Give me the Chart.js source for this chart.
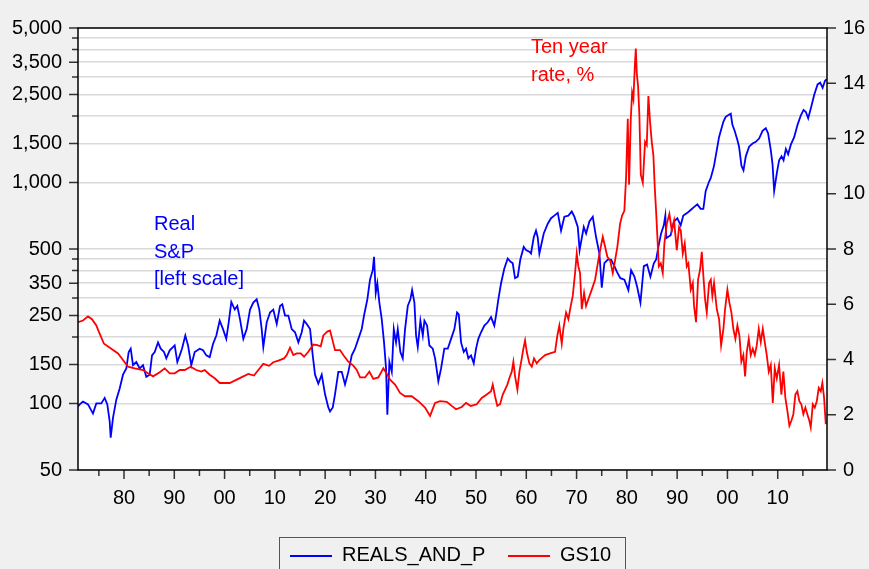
<!DOCTYPE html>
<html>
<head>
<meta charset="utf-8">
<script src="https://cdn.jsdelivr.net/npm/chart.js@4.4.1/dist/chart.umd.min.js"></script>
<style>
  html, body { margin: 0; padding: 0; background: #f0f0f0; }
  #wrap { position: relative; width: 869px; height: 569px; overflow: hidden;
          font-family: "Liberation Sans", Arial, sans-serif; }
  #chart { position: absolute; left: 0; top: 0; }
  .note { position: absolute; font-size: 20px; line-height: 27.5px; white-space: nowrap; }
  #legend { position: absolute; left: 279px; top: 537px; width: 347px; height: 45px;
            border: 1px solid #555; box-sizing: border-box; }
  #legend span { position: absolute; font-size: 20px; line-height: 27px; color: #000; white-space: nowrap; }
  #legend i { position: absolute; height: 2px; width: 42px; }
</style>
</head>
<body>
<div id="wrap">
  <canvas id="chart" width="869" height="569"></canvas>
  <div class="note" style="left:154px; top:210px; color:#0000ff;">Real<br>S&amp;P<br>[left scale]</div>
  <div class="note" style="left:531px; top:33px; color:#ff0000;">Ten year<br>rate, %</div>
  <div id="legend">
    <i style="left:10px; top:17px; background:#0000ff;"></i>
    <span style="left:62px; top:3px;">REALS_AND_P</span>
    <i style="left:228px; top:17px; background:#ff0000;"></i>
    <span style="left:280px; top:3px;">GS10</span>
  </div>
</div>
<script>
// real S&P composite (left, log scale)
const spYear = [
  1870.85, 1871.19, 1871.84, 1872.84, 1873.83, 1874.49, 1875.48, 1876.16, 1876.68, 1877.15,
  1877.35, 1877.81, 1878.47, 1879.14, 1879.8, 1880.46, 1880.93, 1881.33, 1881.79, 1882.44,
  1883.12, 1883.78, 1884.43, 1885.11, 1885.57, 1886.1, 1886.76, 1887.3, 1887.95, 1888.41,
  1889.09, 1890.08, 1890.6, 1891.08, 1891.53, 1892.19, 1892.73, 1893.38, 1894.06, 1895.05,
  1895.71, 1896.37, 1897.04, 1897.7, 1898.36, 1899.03, 1899.69, 1900.34, 1900.82, 1901.34,
  1902.02, 1902.53, 1903.07, 1903.73, 1904.4, 1905.06, 1905.71, 1906.39, 1906.91, 1907.38,
  1907.7, 1908.38, 1909.04, 1909.69, 1910.37, 1911.03, 1911.48, 1912.02, 1912.68, 1913.35,
  1914.01, 1914.67, 1915.34, 1915.8, 1916.34, 1917.0, 1917.53, 1917.99, 1918.64, 1919.32,
  1919.98, 1920.63, 1920.97, 1921.51, 1921.96, 1922.62, 1923.3, 1923.95, 1924.61, 1925.29,
  1925.94, 1926.6, 1927.27, 1927.73, 1928.39, 1928.92, 1929.46, 1929.72, 1930.06, 1930.38,
  1930.78, 1931.25, 1931.71, 1932.11, 1932.37, 1932.77, 1933.25, 1933.65, 1934.1, 1934.44,
  1934.96, 1935.43, 1935.89, 1936.43, 1936.95, 1937.29, 1937.75, 1938.08, 1938.42, 1938.94,
  1939.42, 1939.74, 1940.27, 1940.73, 1941.4, 1941.86, 1942.25, 1942.51, 1943.05, 1943.7,
  1944.38, 1945.04, 1945.7, 1946.23, 1946.57, 1947.03, 1947.56, 1948.02, 1948.48, 1949.01,
  1949.55, 1950.01, 1950.46, 1951.0, 1951.66, 1952.33, 1952.99, 1953.64, 1953.98, 1954.44,
  1954.98, 1955.63, 1956.31, 1956.83, 1957.3, 1957.76, 1958.3, 1958.81, 1959.49, 1959.95,
  1960.6, 1960.94, 1961.48, 1961.93, 1962.27, 1962.6, 1963.47, 1964.27, 1964.92, 1965.58,
  1966.26, 1966.91, 1967.57, 1968.37, 1969.04, 1969.56, 1970.24, 1970.6, 1971.43, 1971.89,
  1972.55, 1973.22, 1973.88, 1974.54, 1975.01, 1975.53, 1976.21, 1976.86, 1977.52, 1978.05,
  1978.71, 1979.51, 1980.3, 1980.84, 1981.5, 1982.03, 1982.7, 1983.37, 1984.03, 1984.68,
  1985.36, 1985.82, 1986.27, 1986.81, 1987.34, 1987.65, 1987.85, 1988.7, 1989.36, 1990.04,
  1990.7, 1991.23, 1992.03, 1992.69, 1993.34, 1994.02, 1994.68, 1995.21, 1995.67, 1996.33,
  1996.67, 1997.01, 1997.33, 1997.87, 1998.33, 1998.67, 1999.2, 1999.66, 2000.12, 2000.66,
  2000.99, 2001.45, 2001.99, 2002.31, 2002.79, 2003.19, 2003.65, 2004.31, 2004.99, 2005.64,
  2006.3, 2006.98, 2007.63, 2008.09, 2008.63, 2008.97, 2009.29, 2009.83, 2010.28, 2010.76,
  2011.16, 2011.62, 2012.07, 2012.61, 2013.27, 2013.94, 2014.6, 2015.14, 2015.6, 2016.06,
  2016.59, 2017.26, 2017.93, 2018.45, 2018.93, 2019.39, 2019.73
];
const spValue = [
  97, 99, 102, 99, 90, 100, 100, 106, 99, 83,
  70, 86, 104, 117, 135, 144, 171, 177, 149, 154,
  144, 149, 132, 135, 165, 171, 189, 177, 171, 160,
  174, 183, 154, 165, 177, 203, 183, 149, 171, 177,
  174, 165, 162, 186, 203, 237, 217, 196, 233, 288,
  266, 276, 240, 196, 217, 266, 286, 296, 266, 217,
  180, 233, 258, 266, 229, 276, 281, 250, 250, 217,
  210, 189, 210, 237, 229, 217, 165, 135, 123, 135,
  110, 96, 92, 96, 110, 139, 139, 122, 139, 165,
  177, 196, 217, 250, 296, 363, 401, 461, 316, 350,
  286, 241, 189, 144, 89, 154, 139, 217, 189, 217,
  171, 160, 217, 276, 296, 326, 286, 203, 180, 237,
  203, 237, 225, 183, 177, 160, 139, 126, 144, 177,
  177, 196, 217, 258, 253, 189, 171, 177, 160, 165,
  152, 177, 196, 210, 225, 233, 246, 225, 250, 296,
  350, 408, 453, 439, 431, 369, 375, 448, 511, 494,
  486, 477, 565, 605, 565, 477, 588, 651, 689, 708,
  729, 605, 700, 708, 739, 700, 629, 494, 629, 588,
  666, 700, 565, 477, 334, 431, 448, 448, 418, 393,
  369, 363, 326, 401, 375, 338, 286, 418, 425, 375,
  431, 448, 511, 588, 640, 708, 560, 577, 666, 689,
  640, 708, 729, 751, 773, 796, 760, 760, 914, 1007,
  1045, 1115, 1189, 1397, 1603, 1711, 1886, 1981, 2014, 2046,
  1823, 1711, 1551, 1452, 1189, 1134, 1313, 1452, 1501, 1527,
  1580, 1711, 1762, 1667, 1397, 1207, 916, 1106, 1261, 1313,
  1261, 1418, 1342, 1483, 1603, 1823, 2014, 2129, 2083, 1952,
  2167, 2495, 2779, 2829, 2681, 2877, 2938
];

// ten year rate, % (right scale)
const gsYear = [
  1870.85, 1871.84, 1872.84, 1873.63, 1874.49, 1875.17, 1876.02, 1877.47, 1878.81, 1879.8,
  1880.79, 1882.13, 1883.78, 1884.77, 1885.77, 1887.1, 1888.09, 1889.09, 1890.08, 1891.08,
  1892.07, 1893.26, 1894.38, 1895.37, 1896.05, 1897.04, 1898.04, 1899.03, 1900.03, 1901.02,
  1902.41, 1903.73, 1904.72, 1905.85, 1906.71, 1907.7, 1908.84, 1909.69, 1910.69, 1911.82,
  1912.36, 1913.01, 1913.67, 1914.35, 1915.14, 1915.8, 1916.65, 1917.65, 1918.44, 1919.12,
  1919.64, 1920.43, 1920.97, 1921.31, 1921.96, 1922.96, 1923.61, 1924.61, 1925.6, 1926.28,
  1926.94, 1927.93, 1928.79, 1929.58, 1930.58, 1931.57, 1932.37, 1932.9, 1933.9, 1934.89,
  1935.88, 1937.22, 1938.53, 1939.86, 1940.86, 1941.85, 1942.85, 1944.18, 1945.17, 1946.03,
  1947.16, 1948.02, 1948.95, 1950.14, 1951.14, 1952.13, 1952.99, 1953.33, 1953.78, 1954.24,
  1954.78, 1955.32, 1955.78, 1956.23, 1956.63, 1957.11, 1957.43, 1957.77, 1958.23, 1958.63,
  1959.1, 1959.42, 1959.76, 1960.09, 1960.61, 1961.09, 1961.54, 1962.08, 1962.6, 1963.73,
  1964.72, 1965.72, 1966.18, 1966.57, 1967.05, 1967.37, 1967.91, 1968.37, 1968.84, 1969.24,
  1969.7, 1970.03, 1970.35, 1970.69, 1971.03, 1971.49, 1971.88, 1972.34, 1973.02, 1973.68,
  1974.33, 1974.81, 1975.21, 1975.67, 1976.12, 1976.66, 1977.2, 1977.66, 1978.11, 1978.65,
  1979.05, 1979.5, 1979.84, 1980.18, 1980.44, 1980.78, 1981.04, 1981.3, 1981.58, 1981.78,
  1981.97, 1982.23, 1982.49, 1982.77, 1983.17, 1983.62, 1983.96, 1984.28, 1984.62, 1984.95,
  1985.27, 1985.55, 1985.81, 1986.07, 1986.35, 1986.74, 1987.14, 1987.46, 1987.94, 1988.46,
  1988.93, 1989.39, 1989.93, 1990.38, 1990.72, 1991.12, 1991.51, 1991.91, 1992.23, 1992.71,
  1993.11, 1993.36, 1993.76, 1994.16, 1994.56, 1994.9, 1995.22, 1995.55, 1995.89, 1996.35,
  1996.69, 1997.0, 1997.34, 1997.88, 1998.34, 1998.74, 1999.2, 1999.53, 1999.99, 2000.39,
  2000.79, 2001.18, 2001.58, 2001.98, 2002.38, 2002.77, 2003.17, 2003.51, 2003.85, 2004.24,
  2004.64, 2005.04, 2005.44, 2005.83, 2006.23, 2006.63, 2007.03, 2007.42, 2007.82, 2008.22,
  2008.62, 2009.02, 2009.41, 2009.81, 2010.27, 2010.73, 2011.12, 2011.52, 2011.92, 2012.32,
  2012.71, 2013.11, 2013.51, 2013.91, 2014.3, 2014.7, 2015.1, 2015.5, 2015.89, 2016.29,
  2016.57, 2016.97, 2017.37, 2017.77, 2018.16, 2018.56, 2018.88, 2019.22, 2019.56
];
const gsValue = [
  5.35, 5.41, 5.56, 5.46, 5.23, 4.93, 4.57, 4.39, 4.22, 3.98,
  3.74, 3.68, 3.62, 3.50, 3.39, 3.54, 3.68, 3.50, 3.50, 3.62,
  3.62, 3.74, 3.62, 3.56, 3.62, 3.45, 3.32, 3.15, 3.15, 3.15,
  3.27, 3.39, 3.48, 3.42, 3.62, 3.84, 3.77, 3.90, 3.96, 4.04,
  4.16, 4.43, 4.16, 4.22, 4.22, 4.10, 4.28, 4.54, 4.52, 4.48,
  4.87, 5.01, 5.05, 4.81, 4.34, 4.34, 4.16, 3.92, 3.78, 3.62,
  3.35, 3.35, 3.56, 3.30, 3.35, 3.68, 3.45, 3.27, 3.09, 2.79,
  2.67, 2.67, 2.49, 2.26, 1.96, 2.43, 2.49, 2.47, 2.32, 2.20,
  2.28, 2.43, 2.32, 2.38, 2.61, 2.73, 2.85, 3.09, 2.67, 2.32,
  2.38, 2.73, 2.91, 3.09, 3.32, 3.56, 3.92, 3.39, 2.91, 3.56,
  4.04, 4.39, 4.69, 4.28, 3.86, 3.74, 4.04, 3.86, 3.98, 4.16,
  4.22, 4.28, 4.87, 5.23, 4.57, 5.11, 5.70, 5.46, 5.94, 6.30,
  7.13, 7.84, 7.37, 7.13, 5.82, 6.41, 5.94, 6.18, 6.53, 6.89,
  7.60, 8.08, 8.44, 8.08, 7.72, 7.60, 7.13, 7.60, 8.08, 8.91,
  9.21, 9.38, 10.57, 12.71, 10.33, 12.71, 13.66, 13.42, 14.61, 15.26,
  14.37, 13.90, 12.83, 10.69, 10.40, 11.88, 11.76, 13.54, 12.59, 11.88,
  11.40, 10.22, 9.38, 8.44, 7.37, 7.48, 7.13, 8.20, 8.91, 9.27,
  8.67, 9.03, 7.96, 8.79, 8.67, 7.84, 8.20, 7.37, 7.48, 6.53,
  6.77, 5.94, 5.35, 6.89, 7.25, 7.90, 7.01, 6.18, 5.70, 6.77,
  6.89, 6.30, 6.77, 5.82, 5.46, 4.51, 5.11, 5.82, 6.53, 6.06,
  5.70, 5.11, 4.75, 5.23, 4.87, 3.92, 4.16, 3.39, 4.28, 4.75,
  4.16, 4.39, 4.16, 4.51, 5.11, 4.63, 5.11, 4.63, 4.16, 3.56,
  3.80, 2.43, 3.68, 3.32, 3.80, 2.73, 3.56, 2.61, 2.14, 1.60,
  1.78, 2.02, 2.73, 2.85, 2.49, 2.38, 2.02, 2.26, 2.02, 1.78,
  1.54, 2.38, 2.26, 2.49, 2.97, 2.85, 3.15, 2.61, 1.66
];

// axis ticks
const leftTicks = [50, 100, 150, 200, 250, 300, 350, 400, 450, 500, 1000, 1500, 2000, 2500, 3000, 3500, 4000, 4500, 5000];
const leftLabels = [50, 100, 150, 250, 350, 500, 1000, 1500, 2500, 3500, 5000];
const rightTicks = [0, 2, 4, 6, 8, 10, 12, 14, 16];
const xTicks = [];
for (let y = 1875; y <= 2015; y += 5) xTicks.push(y);

const FONT = { family: '"Liberation Sans", Arial, sans-serif', size: 20 };

// white plot area
const plotBg = {
  id: 'plotBg',
  beforeDraw(chart) {
    const { ctx, chartArea: a } = chart;
    ctx.save();
    ctx.fillStyle = '#ffffff';
    ctx.fillRect(a.left, a.top, a.right - a.left, a.bottom - a.top);
    ctx.restore();
  }
};

// frame round the plot and outside tick marks
const frameTicks = {
  id: 'frameTicks',
  afterDraw(chart) {
    const { ctx, chartArea: a, scales } = chart;
    ctx.save();
    ctx.strokeStyle = '#333';
    ctx.lineWidth = 1.5;
    ctx.beginPath();
    leftTicks.forEach(v => {
      const y = scales.y.getPixelForValue(v);
      const len = leftLabels.includes(v) ? 9 : 6;
      ctx.moveTo(a.left - len, y); ctx.lineTo(a.left, y);
    });
    rightTicks.forEach(v => {
      const y = scales.y2.getPixelForValue(v);
      ctx.moveTo(a.right, y); ctx.lineTo(a.right + 9, y);
    });
    xTicks.forEach(v => {
      const x = scales.x.getPixelForValue(v);
      const len = v % 10 === 0 ? 9 : 6;
      ctx.moveTo(x, a.bottom); ctx.lineTo(x, a.bottom + len);
    });
    ctx.stroke();
    ctx.strokeStyle = '#000';
    ctx.lineWidth = 1.5;
    ctx.strokeRect(a.left, a.top, a.right - a.left, a.bottom - a.top);
    ctx.restore();
  }
};

new Chart(document.getElementById('chart'), {
  type: 'line',
  data: {
    datasets: [
      {
        label: 'GS10',
        data: gsYear.map((x, i) => ({ x, y: gsValue[i] })),
        yAxisID: 'y2',
        borderColor: '#ff0000',
        borderWidth: 1.8,
        pointRadius: 0,
        tension: 0,
        order: 0
      },
      {
        label: 'REALS_AND_P',
        data: spYear.map((x, i) => ({ x, y: spValue[i] })),
        yAxisID: 'y',
        borderColor: '#0000ff',
        borderWidth: 1.8,
        pointRadius: 0,
        tension: 0,
        order: 1
      }
    ]
  },
  options: {
    responsive: false,
    animation: false,
    devicePixelRatio: 1,
    layout: { padding: { top: 21, bottom: 59, left: 0, right: 0 } },
    plugins: { legend: { display: false }, tooltip: { enabled: false } },
    scales: {
      x: {
        type: 'linear',
        min: 1870.85,
        max: 2019.8,
        afterBuildTicks: s => { s.ticks = xTicks.map(v => ({ value: v })); },
        afterFit: s => { s.height = 40; },
        grid: { display: false, drawTicks: false },
        border: { display: false },
        ticks: {
          autoSkip: false, maxRotation: 0, padding: 16, color: '#000', font: FONT,
          callback: v => v % 10 === 0 ? String(v % 100).padStart(2, '0') : ''
        }
      },
      y: {
        type: 'logarithmic',
        position: 'left',
        min: 50,
        max: 5000,
        afterBuildTicks: s => { s.ticks = leftTicks.map(v => ({ value: v })); },
        afterFit: s => { s.width = 78; },
        grid: { color: '#d9d9d9', lineWidth: 1.5, drawTicks: false },
        border: { display: false },
        ticks: {
          autoSkip: false, padding: 16, color: '#000', font: FONT,
          callback: v => leftLabels.includes(v) ? v.toLocaleString('en-US') : ''
        }
      },
      y2: {
        type: 'linear',
        position: 'right',
        min: 0,
        max: 16,
        afterBuildTicks: s => { s.ticks = rightTicks.map(v => ({ value: v })); },
        afterFit: s => { s.width = 42; },
        grid: { display: false, drawTicks: false },
        border: { display: false },
        ticks: { autoSkip: false, padding: 16, color: '#000', font: FONT }
      }
    }
  },
  plugins: [plotBg, frameTicks]
});
</script>
</body>
</html>
